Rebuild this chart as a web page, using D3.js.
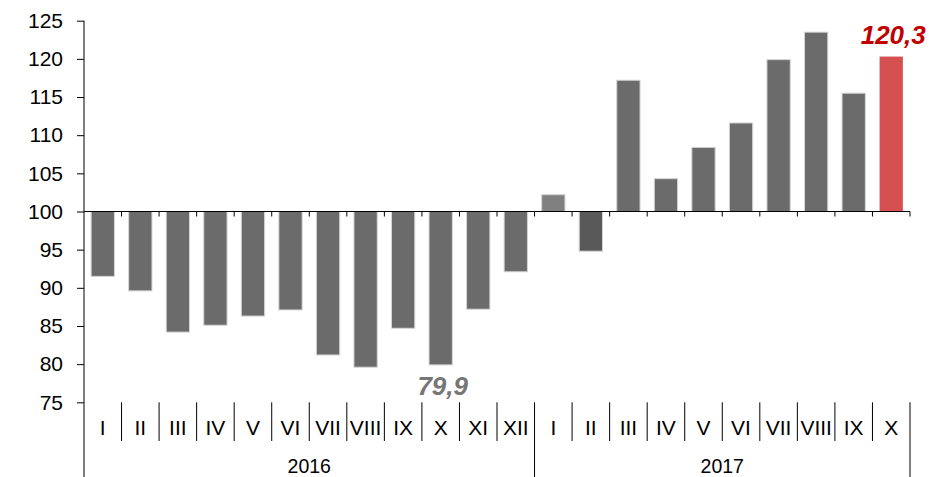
<!DOCTYPE html>
<html>
<head>
<meta charset="utf-8">
<script src="https://cdn.jsdelivr.net/npm/d3@7"></script>
<style>
html,body{margin:0;padding:0;background:#fff;}
svg{display:block;font-family:"Liberation Sans",Arial,sans-serif;}
</style>
</head>
<body>
<svg id="chart" width="932" height="477"></svg>
<script>
const months = ["I","II","III","IV","V","VI","VII","VIII","IX","X","XI","XII","I","II","III","IV","V","VI","VII","VIII","IX","X"];
const years = ["2016","2017"];
const yearCounts = [12,10];
const values2016 = [91.5,89.6,84.2,85.1,86.3,87.1,81.2,79.6,84.7,79.9,87.2,92.1];
const values2017 = [102.2,94.8,117.2,104.3,108.4,111.6,119.9,123.5,115.5,120.3];
const yTicks = [75,80,85,90,95,100,105,110,115,120,125];
const labels = [{index:9, text:"79,9", cls:"min"},{index:21, text:"120,3", cls:"max"}];

const values = values2016.concat(values2017);
const data = values.map((v,i)=>({i, m:months[i], v}));

const svg = d3.select("#chart");
const pLeft = 84, pRight = 910, pTop = 20.7, pBottom = 402.3, base = 100;

const x = d3.scaleBand().domain(d3.range(values.length)).range([pLeft,pRight]).paddingInner(0.38).paddingOuter(0.19);
const y = d3.scaleLinear().domain([75,125]).range([pBottom,pTop]);
const step = x.step();
const bx = i => pLeft + i*step;

function fillFor(i){
  if(i===21) return "#d64f51";
  if(i===12) return "#808080";
  if(i===13) return "#595959";
  return "#6b6b6b";
}

// bars
svg.append("g").selectAll("rect").data(data).join("rect")
  .attr("x", d=>x(d.i))
  .attr("width", x.bandwidth())
  .attr("y", d=>y(Math.max(d.v,base)))
  .attr("height", d=>Math.abs(y(d.v)-y(base)))
  .attr("fill", d=>fillFor(d.i))
  .attr("stroke", d=> d.i===21 ? "none" : "#d4d4d4")
  .attr("stroke-width", 1);

// y axis
const yAxis = d3.axisLeft(y).tickValues(yTicks).tickSize(7).tickPadding(14).tickFormat(d3.format("d"));
const gy = svg.append("g").attr("transform",`translate(${pLeft},0)`).call(yAxis);
gy.select(".domain").remove();
gy.selectAll("line").attr("stroke","#000");
gy.selectAll("text").attr("font-size",21).attr("fill","#000").attr("font-family","Liberation Sans, Arial, sans-serif");
svg.append("line").attr("x1",pLeft).attr("x2",pLeft).attr("y1",pTop).attr("y2",477).attr("stroke","#000");

// x axis at 100
const y100 = y(base);
svg.append("line").attr("x1",pLeft).attr("x2",pRight).attr("y1",y100).attr("y2",y100).attr("stroke","#000").attr("stroke-width",1.2);
svg.append("g").selectAll("line").data(d3.range(1,values.length+1)).join("line")
  .attr("x1",d=>bx(d)).attr("x2",d=>bx(d))
  .attr("y1",y100).attr("y2",y100+5).attr("stroke","#000");

// bottom category separators
const yearBounds = [];
let acc=0; yearCounts.forEach(c=>{acc+=c; yearBounds.push(acc);});
svg.append("g").selectAll("line").data(d3.range(1,values.length+1)).join("line")
  .attr("x1",d=>bx(d)).attr("x2",d=>bx(d))
  .attr("y1",pBottom).attr("y2",d=>yearBounds.includes(d)?477:441)
  .attr("stroke","#000");

// month labels
svg.append("g").selectAll("text").data(data).join("text")
  .attr("x",d=>x(d.i)+x.bandwidth()/2)
  .attr("y",435)
  .attr("text-anchor","middle")
  .attr("font-family","'Liberation Sans Narrow','Arial Narrow','Liberation Sans',sans-serif")
  .attr("font-size",21)
  .text(d=>d.m);

// year labels
let start=0;
years.forEach((yr,k)=>{
  const s = bx(start), e = bx(start+yearCounts[k]);
  svg.append("text").attr("x",(s+e)/2).attr("y",473).attr("text-anchor","middle").attr("font-size",19.5).text(yr);
  start += yearCounts[k];
});

// value labels
labels.forEach(l=>{
  const v = values[l.index];
  const cx = x(l.index)+x.bandwidth()/2;
  const isMax = l.cls==="max";
  svg.append("text")
    .attr("x", cx + 2)
    .attr("y", isMax ? y(v)-13 : y(v)+30)
    .attr("text-anchor","middle")
    .attr("font-size",26)
    .attr("font-weight","bold")
    .attr("font-style","italic")
    .attr("fill", isMax ? "#c00000" : "#767676")
    .text(l.text);
});
</script>
</body>
</html>
